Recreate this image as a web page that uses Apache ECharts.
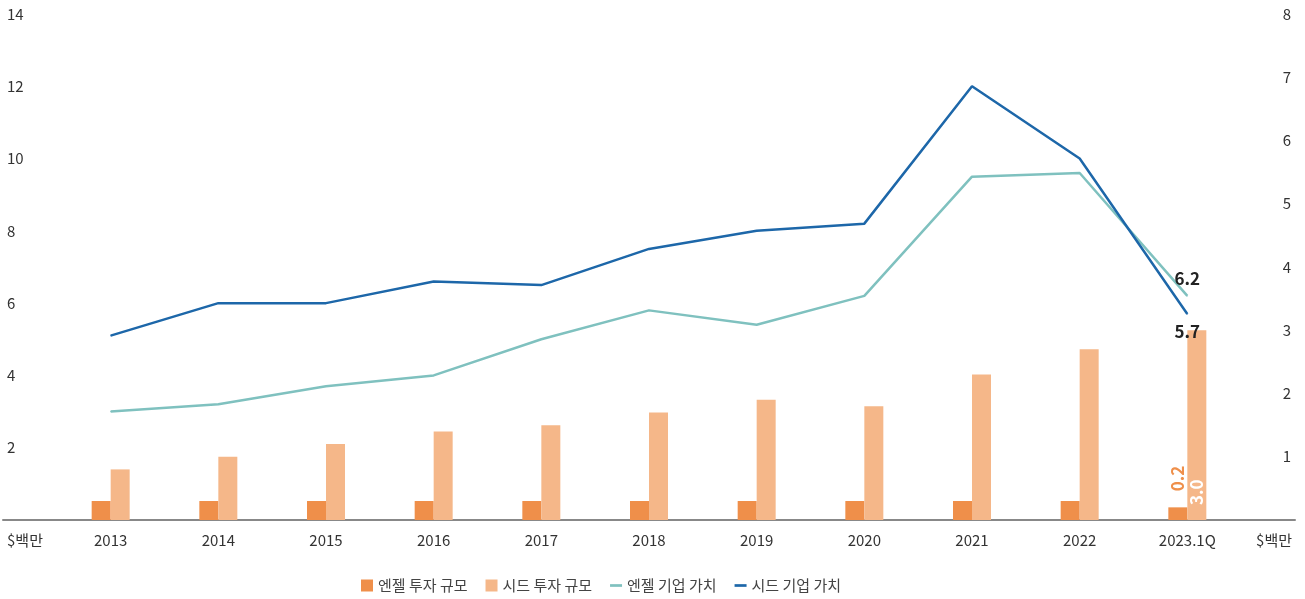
<!DOCTYPE html>
<html>
<head>
<meta charset="utf-8">
<script src="https://cdn.jsdelivr.net/npm/echarts@6/dist/echarts.min.js"></script>
<style>
  html, body { margin: 0; padding: 0; background: #fff; }
  #chart { width: 1305px; height: 599px; }
</style>
</head>
<body>
<div id="chart"></div>
<script>
// 연도
var years = ["2013", "2014", "2015", "2016", "2017", "2018", "2019", "2020", "2021", "2022", "2023.1Q"];
// 투자 규모 (오른쪽 축)
var angelInvest = [0.3, 0.3, 0.3, 0.3, 0.3, 0.3, 0.3, 0.3, 0.3, 0.3, 0.2];
var seedInvest = [0.8, 1.0, 1.2, 1.4, 1.5, 1.7, 1.9, 1.8, 2.3, 2.7, 3.0];
// 기업 가치 (왼쪽 축)
var angelValue = [3.0, 3.2, 3.7, 4.0, 5.0, 5.8, 5.4, 6.2, 9.5, 9.6, 6.2];
var seedValue = [5.1, 6.0, 6.0, 6.6, 6.5, 7.5, 8.0, 8.2, 12.0, 10.0, 5.7];

var FONT = "'Noto Sans CJK KR', 'Noto Sans', sans-serif";
var last = years.length - 1;
var lineIcon = "path://M0,0H40V9H0Z";

// 양 끝에 빈 칸을 두어 축 여백을 만든다
function pad(arr, lastLabel) {
  var out = ["-"];
  arr.forEach(function(v, i) {
    if (i === last && lastLabel) {
      out.push({ value: v, label: lastLabel });
    } else {
      out.push(v);
    }
  });
  out.push("-");
  return out;
}

function fmt(p) { return p.value.toFixed(1); }
function hideZero(v) { return v === 0 ? "" : v; }

var chart = echarts.init(document.getElementById("chart"));
chart.setOption({
  animation: false,
  textStyle: { fontFamily: FONT },
  grid: { left: 3, right: 10, top: 14, bottom: 79 },
  legend: {
    top: 573,
    left: 356,
    itemWidth: 12,
    itemHeight: 12,
    itemGap: 18,
    textStyle: { fontSize: 15, color: "#444", fontFamily: FONT },
    data: [
      { name: "엔젤 투자 규모", icon: "rect" },
      { name: "시드 투자 규모", icon: "rect" },
      { name: "엔젤 기업 가치", icon: lineIcon },
      { name: "시드 기업 가치", icon: lineIcon }
    ]
  },
  xAxis: {
    type: "category",
    boundaryGap: false,
    data: [""].concat(years, [""]),
    axisTick: { show: false },
    axisLine: { lineStyle: { color: "#888", width: 2 } },
    axisLabel: { interval: 0, margin: 13, fontSize: 15, color: "#333" }
  },
  yAxis: [
    {
      type: "value",
      min: 0,
      max: 14,
      interval: 2,
      splitLine: { show: false },
      axisLine: { show: false },
      axisTick: { show: false },
      axisLabel: { align: "left", margin: -4, fontSize: 15, color: "#333", formatter: hideZero }
    },
    {
      type: "value",
      min: 0,
      max: 8,
      interval: 1,
      position: "right",
      splitLine: { show: false },
      axisLine: { show: false },
      axisTick: { show: false },
      axisLabel: { align: "right", margin: -4, fontSize: 15, color: "#333", formatter: hideZero }
    }
  ],
  graphic: [
    { type: "text", left: 7, top: 533, style: { text: "$백만", fontSize: 15, fill: "#333", fontFamily: FONT } },
    { type: "text", right: 13, top: 533, style: { text: "$백만", fontSize: 15, fill: "#333", fontFamily: FONT } }
  ],
  series: [
    {
      name: "엔젤 투자 규모",
      type: "bar",
      yAxisIndex: 1,
      barWidth: 19,
      barGap: "0%",
      itemStyle: { color: "#EF8F4A" },
      data: pad(angelInvest, {
        show: true, position: "top", distance: 16, rotate: 90,
        align: "left", verticalAlign: "middle",
        color: "#EF8F4A", fontWeight: "bold", fontSize: 17, formatter: fmt
      })
    },
    {
      name: "시드 투자 규모",
      type: "bar",
      yAxisIndex: 1,
      barWidth: 19,
      itemStyle: { color: "#F5B789" },
      data: pad(seedInvest, {
        show: true, position: "insideBottom", distance: 15, rotate: 90,
        align: "left", verticalAlign: "middle",
        color: "#fff", fontWeight: "bold", fontSize: 17, formatter: fmt
      })
    },
    {
      name: "엔젤 기업 가치",
      type: "line",
      yAxisIndex: 0,
      symbol: "circle",
      symbolSize: 1,
      showSymbol: true,
      lineStyle: { color: "#7FC1BF", width: 2.5 },
      itemStyle: { color: "#7FC1BF" },
      data: pad(angelValue, {
        show: true, position: "top", distance: 8,
        color: "#222", fontWeight: "bold", fontSize: 17, formatter: fmt
      })
    },
    {
      name: "시드 기업 가치",
      type: "line",
      yAxisIndex: 0,
      symbol: "circle",
      symbolSize: 1,
      showSymbol: true,
      lineStyle: { color: "#1D67A9", width: 2.5 },
      itemStyle: { color: "#1D67A9" },
      data: pad(seedValue, {
        show: true, position: "bottom", distance: 9,
        color: "#222", fontWeight: "bold", fontSize: 17, formatter: fmt
      })
    }
  ]
});
</script>
</body>
</html>
